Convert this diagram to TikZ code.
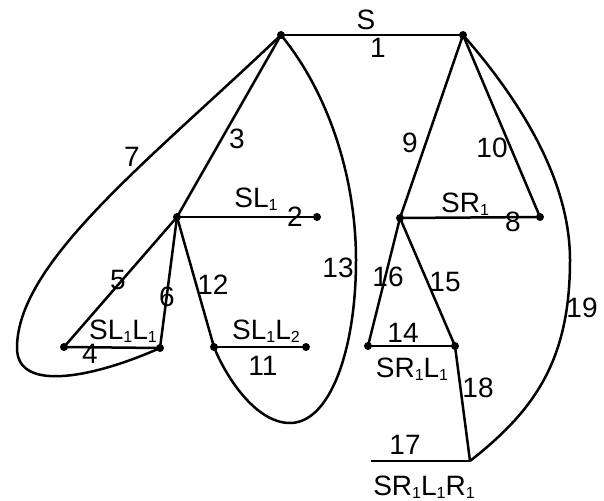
\documentclass[tikz,border=0pt]{standalone}
\usepackage{fontspec}
\setmainfont{Liberation Sans}
% lowered small index used in the state names
\newcommand{\lsub}[1]{\raisebox{-3pt}{\fontsize{16}{16}\selectfont #1}}
\begin{document}
\begin{tikzpicture}[x=1pt, y=-1pt, line width=2.5pt, line join=round,
  lbl/.style={inner sep=0pt, font=\fontsize{28}{28}\selectfont},
  dot/.style={circle, fill=black, inner sep=0pt, minimum size=8pt}]
\useasboundingbox (0,0) rectangle (604,500);

% vertices
\node[dot] (A) at (281,35) {};
\node[dot] (B) at (463,35) {};
\node[dot] (C) at (177,217) {};
\node[dot] (D) at (317,217) {};
\node[dot] (E) at (64,347) {};
\node[dot] (F) at (160,348) {};
\node[dot] (G) at (214,347) {};
\node[dot] (H) at (306,347) {};
\node[dot] (I) at (400,218) {};
\node[dot] (J) at (540,217) {};
\node[dot] (K) at (368,346) {};
\node[dot] (L) at (455,346) {};
\coordinate (M) at (470,461);
\coordinate (M0) at (371,461);

% straight edges
\draw (A.center) -- (B.center);
\draw (A.center) -- (C.center);
\draw (C.center) -- (D.center);
\draw (C.center) -- (E.center);
\draw (C.center) -- (F.center);
\draw (E.center) -- (F.center);
\draw (C.center) -- (G.center);
\draw (G.center) -- (H.center);
\draw (B.center) -- (I.center);
\draw (B.center) -- (J.center);
\draw (I.center) -- (J.center);
\draw (I.center) -- (K.center);
\draw (I.center) -- (L.center);
\draw (K.center) -- (L.center);
\draw (L.center) -- (M);
\draw (M0) -- (M);

% curved edges
\draw (A.center) .. controls (150,160) and (17,262) .. (17,348)
                 .. controls (17,395) and (100,375) .. (F.center);
\draw (A.center) .. controls (330,95) and (356,180) .. (356,260)
                 .. controls (356,350) and (330,423) .. (290,423)
                 .. controls (255,423) and (225,375) .. (G.center);
\draw (B.center) .. controls (520,100) and (570,180) .. (570,260)
                 .. controls (570,360) and (535,410) .. (M);

% state names
\node[lbl, anchor=base] (tS) at (366,30) {S};
\node[lbl, anchor=base] (tSL) at (256,207) {SL\lsub{1}};
\node[lbl, anchor=base] (tSLL1) at (123,339) {SL\lsub{1}L\lsub{1}};
\node[lbl, anchor=base] (tSLL2) at (266,339) {SL\lsub{1}L\lsub{2}};
\node[lbl, anchor=base] (tSR) at (465,212) {SR\lsub{1}};
\node[lbl, anchor=base] (tSRL) at (412,377) {SR\lsub{1}L\lsub{1}};
\node[lbl, anchor=base] (tSRLR) at (424,495) {SR\lsub{1}L\lsub{1}R\lsub{1}};

% edge numbers
\node[lbl] (n1) at (378,48) {1};
\node[lbl] (n2) at (295,217) {2};
\node[lbl] (n3) at (237,139) {3};
\node[lbl] (n4) at (90,354) {4};
\node[lbl] (n5) at (118,280) {5};
\node[lbl] (n6) at (167,297) {6};
\node[lbl] (n7) at (132,157) {7};
\node[lbl] (n8) at (513,222) {8};
\node[lbl] (n9) at (410,143) {9};
\node[lbl] (n10) at (492,148) {10};
\node[lbl] (n11) at (263,366) {11};
\node[lbl] (n12) at (213,285) {12};
\node[lbl] (n13) at (338,268) {13};
\node[lbl] (n14) at (403,333) {14};
\node[lbl] (n15) at (445,282) {15};
\node[lbl] (n16) at (388,277) {16};
\node[lbl] (n17) at (405,445) {17};
\node[lbl] (n18) at (478,388) {18};
\node[lbl] (n19) at (582,308) {19};
\end{tikzpicture}
\end{document}
